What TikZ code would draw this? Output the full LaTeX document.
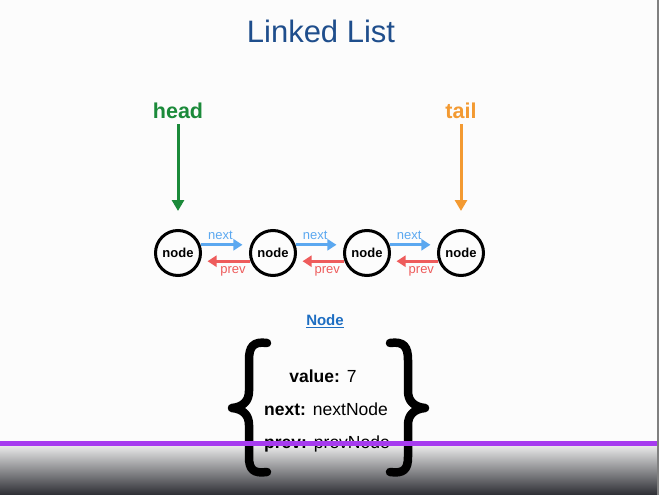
\documentclass[tikz,border=0pt]{standalone}
\usepackage{fontspec}
\setmainfont{Liberation Sans}
\usetikzlibrary{arrows.meta,calc}
\definecolor{titleblue}{HTML}{1F4E8C}
\definecolor{headgreen}{HTML}{1B8A3A}
\definecolor{tailorange}{HTML}{F39A32}
\definecolor{nextblue}{HTML}{5BA8F0}
\definecolor{prevred}{HTML}{EE5C5C}
\definecolor{linkblue}{HTML}{1E6EC2}
\definecolor{barpurple}{HTML}{A63BEF}
\definecolor{shadetop}{HTML}{E8E8E8}
\definecolor{shadebottom}{HTML}{2C2D33}
\tikzset{
  listnode/.style={circle, draw=black, line width=3pt, minimum size=45pt, inner sep=0pt,
    font=\fontsize{13}{13}\selectfont\bfseries},
  pointer/.style={line width=3pt, -{Triangle[width=12pt,length=11pt]}},
  link/.style={line width=3pt, -{Triangle[width=11pt,length=9pt]}},
  linklabel/.style={font=\fontsize{13}{13}\selectfont, inner sep=0pt},
  brace/.style={line width=8.5pt, line cap=round, line join=round},
  field/.style={font=\fontsize{17.5}{17.5}\selectfont, inner sep=0pt}
}
\begin{document}
\begin{tikzpicture}[x=1pt,y=-1pt]
  \useasboundingbox (0,0) rectangle (659,495);
  \fill[white!99!black] (0,0) rectangle (658,495);
  % footer band
  \shade[top color=shadetop, bottom color=shadebottom] (0,446) rectangle (658,495);

  % title
  \node[font=\fontsize{31}{31}\selectfont, text=titleblue] (title) at (321,31) {Linked List};

  % list nodes
  \node[listnode] (n1) at (178,253) {node};
  \node[listnode] (n2) at (273,253) {node};
  \node[listnode] (n3) at (367,253) {node};
  \node[listnode] (n4) at (461,253) {node};

  % head and tail pointers
  \node[font=\fontsize{21.5}{21.5}\selectfont\bfseries, text=headgreen, anchor=base, inner sep=3pt] (head) at (178,118) {head};
  \node[font=\fontsize{21.5}{21.5}\selectfont\bfseries, text=tailorange, anchor=base, inner sep=3pt] (tail) at (461,118) {tail};
  \draw[pointer, headgreen, shorten <=3pt, shorten >=18pt] (head.south) -- (n1.north);
  \draw[pointer, tailorange, shorten <=3pt, shorten >=18pt] (tail.south) -- (n4.north);

  % next / prev links
  \foreach \a/\b in {n1/n2, n2/n3, n3/n4}{
    \draw[link, nextblue, shorten >=8pt] (\a.20) -- (\b.160)
      node[linklabel, text=nextblue, pos=0.4, above=4pt] {next};
    \draw[link, prevred, shorten >=7pt] (\b.200) -- (\a.-20)
      node[linklabel, text=prevred, pos=0.35, below=4pt] {prev};
  }

  % node structure
  \node[font=\fontsize{15}{15}\selectfont\bfseries, text=linkblue] (nodetitle) at (325,321) {\underline{Node}};
  \node[field] (value) at (323,376) {\textbf{value:}\hspace{7pt}7};
  \node[field] (next) at (326,409) {\textbf{next:}\hspace{7pt}nextNode};
  \node[field] (prev) at (327,444) {\textbf{prev:}\hspace{7pt}prevNode};

  % curly braces
  \draw[brace] (267,343) .. controls (253,341) and (249,347) .. (249,360) -- (249,391)
    .. controls (249,401) and (243,407) .. (232,408)
    .. controls (243,409) and (249,415) .. (249,425) -- (249,457)
    .. controls (249,469) and (253,474) .. (267,472);
  \draw[brace] (390,343) .. controls (404,341) and (408,347) .. (408,360) -- (408,391)
    .. controls (408,401) and (414,407) .. (425,408)
    .. controls (414,409) and (408,415) .. (408,425) -- (408,457)
    .. controls (408,469) and (404,474) .. (390,472);

  % purple rule and right edge
  \fill[barpurple] (0,441) rectangle (658,446);
  \draw[gray, line width=1.5pt] (658,0) -- (658,495);
\end{tikzpicture}
\end{document}
